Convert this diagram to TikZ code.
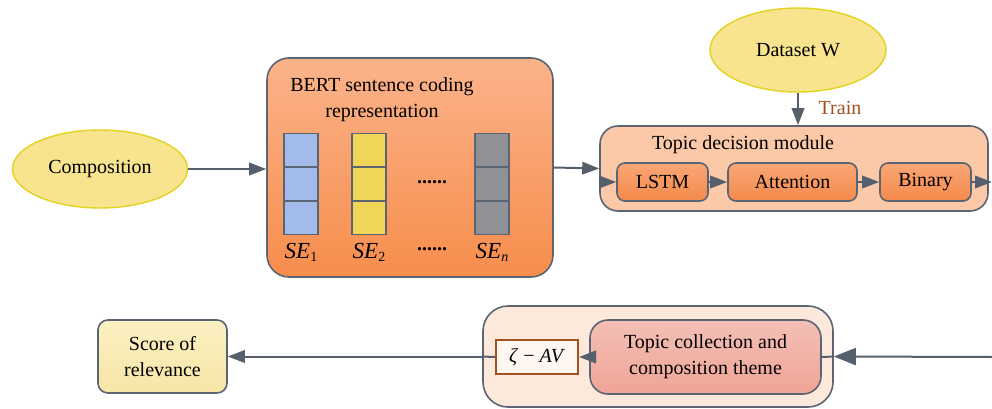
\documentclass[tikz,border=0pt]{standalone}
\usepackage{fontspec}
\setmainfont{Liberation Serif}
\usetikzlibrary{arrows.meta,shapes.geometric,calc}

\definecolor{edge}{HTML}{5A6472}
\definecolor{arrowc}{HTML}{56606D}
\definecolor{ellfill}{HTML}{F8E48E}
\definecolor{ellline}{HTML}{E2D320}
\definecolor{bertTop}{HTML}{FBB38A}
\definecolor{bertBot}{HTML}{F78D4C}
\definecolor{tdmfill}{HTML}{FCC9A8}
\definecolor{subTop}{HTML}{F9A676}
\definecolor{subBot}{HTML}{F58A4B}
\definecolor{cellblue}{HTML}{A3BBE8}
\definecolor{cellyellow}{HTML}{F2D65A}
\definecolor{cellgray}{HTML}{8F9196}
\definecolor{outerfill}{HTML}{FDE9DC}
\definecolor{innerTop}{HTML}{F4C0B6}
\definecolor{innerBot}{HTML}{EFA496}
\definecolor{brownline}{HTML}{A4521E}
\definecolor{trainc}{HTML}{A0501E}
\definecolor{scoreTop}{HTML}{FBF0C2}
\definecolor{scoreBot}{HTML}{F8E6A8}

\tikzset{
  txt/.style={font=\fontsize{20}{26}\selectfont, align=center, text=black},
  ellnode/.style={ellipse, draw=ellline, line width=1.4pt, fill=ellfill, txt},
  boxline/.style={draw=edge, line width=1.6pt},
  subbox/.style={rectangle, rounded corners=8pt, boxline, top color=subTop, bottom color=subBot,
    minimum height=38pt, txt},
  cell/.style={rectangle, draw=edge, line width=1.6pt, minimum width=34pt, minimum height=33.7pt, inner sep=0pt},
  selabel/.style={font=\fontsize{23}{26}\selectfont, text=black},
  conn/.style={draw=arrowc, line width=2pt, -{Triangle[length=17pt,width=12.5pt]}},
  bigconn/.style={draw=arrowc, line width=2pt, -{Triangle[length=22pt,width=17pt]}},
  plainconn/.style={draw=arrowc, line width=2pt},
}

\begin{document}
\begin{tikzpicture}[x=1pt,y=-1pt]
\useasboundingbox (0,0) rectangle (992,409);

% --- input ellipse
\node[ellnode, minimum width=175pt, minimum height=78pt] (comp) at (100,169) {Composition};

% --- BERT encoding block
\node[rectangle, rounded corners=22pt, boxline, top color=bertTop, bottom color=bertBot,
      minimum width=286pt, minimum height=219pt] (bert) at (410,167.5) {};
\node[txt] (berttitle) at (382,100) {BERT sentence coding\\representation};

% sentence embedding columns
\foreach \cx/\col/\nm in {301/cellblue/a, 369/cellyellow/b, 492/cellgray/c}{
  \node[cell, fill=\col] (\nm1) at (\cx,150.3) {};
  \node[cell, fill=\col] (\nm2) at (\cx,184) {};
  \node[cell, fill=\col] (\nm3) at (\cx,217.7) {};
}
\node[txt] (dotsmid) at (432,182) {\textbf{......}};
\node[selabel] (se1) at (301,252) {\textit{SE}\raisebox{-3pt}{\fontsize{14}{14}\selectfont 1}};
\node[selabel] (se2) at (369,252) {\textit{SE}\raisebox{-3pt}{\fontsize{14}{14}\selectfont 2}};
\node[txt] (dotslow) at (432,249) {\textbf{......}};
\node[selabel] (sen) at (492,252) {\textit{SE}\raisebox{-3pt}{\fontsize{14}{14}\selectfont\itshape n}};

% --- topic decision module
\node[rectangle, rounded corners=18pt, boxline, fill=tdmfill,
      minimum width=388pt, minimum height=85pt] (tdm) at (794,168.5) {};
\node[txt] (tdmtitle) at (743,145) {Topic decision module};
\node[subbox, minimum width=91pt] (lstm) at (662.5,182) {LSTM};
\node[subbox, minimum width=129pt] (att) at (792.5,182) {Attention};
\node[subbox, minimum width=91pt] (bin) at (925.5,182) {Binary};

% training data
\node[ellnode, minimum width=176pt, minimum height=84pt] (data) at (798,50) {Dataset W};
\node[txt, text=trainc] (train) at (840,108) {Train};

% --- bottom row
\node[rectangle, rounded corners=25pt, boxline, fill=outerfill,
      minimum width=350pt, minimum height=101pt] (outer) at (658,356.5) {};
\node[rectangle, rounded corners=18pt, boxline, top color=innerTop, bottom color=innerBot,
      minimum width=231pt, minimum height=74pt, txt] (topic) at (705.5,357)
      {Topic collection and\\composition theme};
\node[rectangle, draw=brownline, line width=2pt, fill=white!60!outerfill,
      minimum width=82pt, minimum height=34pt, inner sep=0pt, txt] (zeta) at (537,357)
      {\textit{ζ} − \textit{AV}};
\node[rectangle, rounded corners=10pt, boxline, top color=scoreTop, bottom color=scoreBot,
      minimum width=129pt, minimum height=73pt, txt] (score) at (162.5,356.5)
      {Score of\\relevance};

% free ends at the right border
\coordinate (outtop) at (992,182);
\coordinate (inbot) at (992,357);

% --- connectors
\draw[conn] (comp.east) -- (comp.east -| bert.west);
\draw[conn] (bert.east) -- (tdm.west);
\draw[conn] (tdm.west |- lstm.west) -- (lstm.west);
\draw[conn] (lstm.east) -- (att.west);
\draw[conn] (att.east) -- (bin.west);
\draw[conn] (bin.east) -- (outtop);
\draw[conn] (data.south) -- (data.south |- tdm.north);

\draw[bigconn] (inbot) -- (outer.east);
\draw[plainconn] (outer.east) -- (topic.east);
\draw[conn] (topic.west) -- (zeta.east);
\draw[plainconn] (zeta.west) -- (outer.west);
\draw[conn] (outer.west) -- (score.east);
\end{tikzpicture}
\end{document}
